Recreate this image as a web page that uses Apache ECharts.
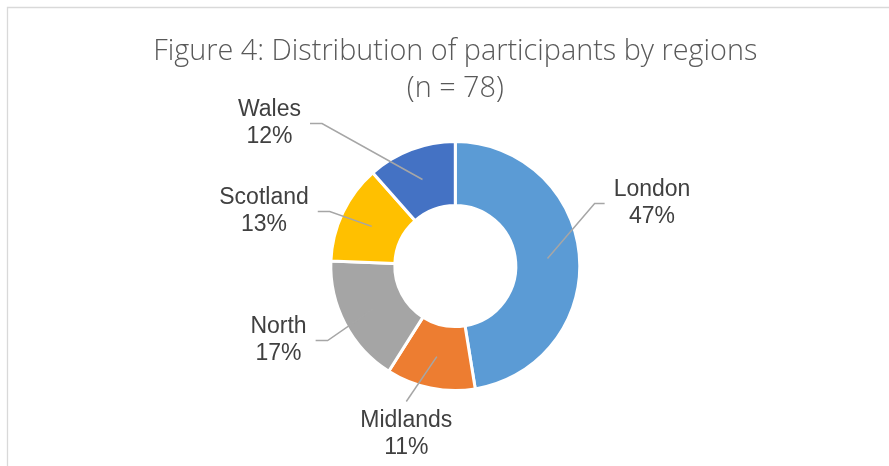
<!DOCTYPE html>
<html><head><meta charset="utf-8">
<script src="https://cdn.jsdelivr.net/npm/echarts@6/dist/echarts.min.js"></script>
<style>html,body{margin:0;padding:0;background:#fff}#c{width:889px;height:466px}</style>
</head><body><div id="c"></div>
<script>
// ---- data ----
const categories = ['London', 'Midlands', 'North', 'Scotland', 'Wales'];
const counts = [37, 9, 13, 10, 9];
const percentLabels = [47, 11, 17, 13, 12];
const colors = ['#5B9BD5', '#ED7D31', '#A5A5A5', '#FFC000', '#4472C4'];
const titleLines = ['Figure 4: Distribution of participants by regions', '(n = 78)'];

// ---- layout ----
const CX = 455.3, CY = 266, R_OUT = 124.5, R_IN = 60.5, BORDER = 3;
const LABEL_FONT = 'Liberation Sans', LABEL_SIZE = 23, LABEL_LH = 27;
const labelPos = [[652, 203.5], [406.3, 434.5], [278.5, 340.5], [264, 211.5], [269.5, 123.5]];

const total = counts.reduce((a, b) => a + b, 0);
function midPoint(i) {
  let cum = 0;
  for (let k = 0; k < i; k++) cum += counts[k];
  const frac = (cum + counts[i] / 2) / total;
  const th = (90 - 360 * frac) * Math.PI / 180;
  const r = (R_IN + R_OUT) / 2;
  return [CX + r * Math.cos(th), CY - r * Math.sin(th)];
}
function labelText(i) { return categories[i] + '\n' + percentLabels[i] + '%'; }

const mctx = document.createElement('canvas').getContext('2d');
mctx.font = LABEL_SIZE + 'px "' + LABEL_FONT + '"';
function labelWidth(i) {
  return Math.max(...labelText(i).split('\n').map(t => mctx.measureText(t).width));
}

const leaderLines = categories.map((c, i) => {
  const lx = labelPos[i][0], ly = labelPos[i][1];
  const w = labelWidth(i), h = LABEL_LH * 2;
  const s = midPoint(i);
  let pts;
  if (ly > CY + R_OUT) {
    pts = [s, [lx, ly - h / 2 - 6]];
  } else if (lx < CX) {
    const ex = lx + w / 2 + 9;
    pts = [s, [ex + 12, ly], [ex, ly]];
  } else {
    const ex = lx - w / 2 - 9;
    pts = [s, [ex - 10, ly], [ex, ly]];
  }
  return { type: 'polyline', z: 100, silent: true, shape: { points: pts },
    style: { stroke: '#a6a6a6', lineWidth: 1.5, fill: null } };
});

const chart = echarts.init(document.getElementById('c'), null, { renderer: 'canvas' });
chart.setOption({
  animation: false,
  backgroundColor: '#fff',
  graphic: [
    { type: 'rect', shape: { x: 7.5, y: 7.5, width: 1000, height: 600 },
      style: { fill: null, stroke: '#d9d9d9', lineWidth: 1.3 }, silent: true },
    { type: 'text', x: CX, y: 70.5, silent: true,
      style: { text: titleLines.join('\n'), textAlign: 'center', textVerticalAlign: 'middle',
        fontFamily: 'Open Sans', fontWeight: 300, fontSize: 28.8, lineHeight: 37, fill: '#595959' } }
  ].concat(leaderLines),
  series: [{
    type: 'pie',
    center: [CX, CY],
    radius: [R_IN, R_OUT],
    startAngle: 90,
    clockwise: true,
    avoidLabelOverlap: false,
    emphasis: { disabled: true },
    itemStyle: { borderColor: '#fff', borderWidth: BORDER },
    data: categories.map((c, i) => ({ name: c, value: counts[i], itemStyle: { color: colors[i] } })),
    label: {
      show: true, position: 'outside',
      formatter: p => labelText(p.dataIndex),
      fontFamily: LABEL_FONT, fontSize: LABEL_SIZE, lineHeight: LABEL_LH, color: '#404040', align: 'center'
    },
    labelLine: { show: false },
    labelLayout: function (params) {
      const i = params.dataIndex;
      return { x: labelPos[i][0], y: labelPos[i][1], align: 'center', verticalAlign: 'middle' };
    }
  }]
});
</script></body></html>
